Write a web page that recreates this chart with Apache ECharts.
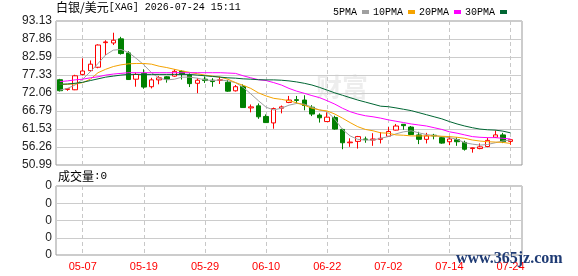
<!DOCTYPE html>
<html>
<head>
<meta charset="utf-8">
<script src="https://cdn.jsdelivr.net/npm/echarts@6/dist/echarts.min.js"></script>
<style>
  html, body { margin: 0; padding: 0; background: #fff; }
  #chart { width: 578px; height: 276px; }
</style>
</head>
<body>
<div id="chart"></div>
<script>
// trading days, one empty slot at the end
var dates = [
  '05-04','05-05','05-06','05-07','05-08','05-11','05-12','05-13','05-14','05-15',
  '05-18','05-19','05-20','05-21','05-22','05-25','05-26','05-27','05-28','05-29',
  '06-01','06-02','06-03','06-04','06-05','06-08','06-09','06-10','06-11','06-12',
  '06-15','06-16','06-17','06-18','06-19','06-22','06-23','06-24','06-25','06-26',
  '06-29','06-30','07-01','07-02','07-03','07-06','07-07','07-08','07-09','07-10',
  '07-13','07-14','07-15','07-16','07-17','07-20','07-21','07-22','07-23','07-24',
  ''
];
var labelDates = ['05-07','05-19','05-29','06-10','06-22','07-02','07-14','07-24'];

var opens = [75.95,73.1,73.0,77.5,78.6,79.6,86.8,86.7,87.9,83.8,
  76.1,77.8,73.9,75.9,76.8,77.0,78.4,77.3,74.9,76.1,
  75.8,75.8,75.2,72.7,74.0,67.7,68.3,65.2,63.3,67.6,
  69.3,70.1,70.0,67.9,65.6,63.7,64.9,61.4,57.5,57.9,
  58.6,58.3,58.5,59.4,61.2,62.9,62.1,59.8,58.5,59.7,
  59.0,57.8,58.4,57.6,55.8,55.8,56.4,59.1,59.8,57.9];
var closes = [72.73,73.3,77.1,78.5,80.5,86.1,87.0,87.5,83.6,76.0,
  77.5,73.8,75.9,76.5,76.1,78.4,77.6,74.8,75.8,75.7,
  75.4,75.9,72.6,73.9,67.8,68.0,65.1,63.4,67.5,68.0,
  70.0,69.9,68.4,65.9,64.8,65.0,61.5,57.5,57.7,59.3,
  58.4,58.6,58.8,60.8,62.4,62.5,59.9,58.5,59.5,59.5,
  57.4,58.6,57.8,55.6,56.0,56.3,58.2,59.8,57.8,58.4];
var lows = [72.5,72.7,72.9,77.2,78.2,79.3,83.2,86.1,83.3,75.9,
  73.9,73.3,73.4,74.6,75.1,76.8,76.0,73.8,72.0,75.0,
  73.9,74.7,72.4,72.5,67.8,66.4,64.5,63.3,61.6,66.1,
  69.1,69.0,67.0,65.3,63.4,63.6,61.3,55.6,56.3,55.8,
  57.5,56.6,57.3,59.2,61.1,61.3,59.8,57.1,57.3,58.5,
  57.2,56.8,56.6,55.2,54.6,55.6,56.2,58.9,57.4,56.9];
var highs = [76.2,73.4,77.4,82.2,81.6,86.3,87.5,89.7,88.5,84.3,
  78.0,79.0,76.5,77.0,77.0,79.0,78.7,77.8,76.4,76.9,
  76.4,76.8,75.9,74.4,74.6,68.7,69.0,65.8,67.8,68.4,
  71.2,71.2,71.4,68.5,66.1,66.4,65.4,61.6,58.8,59.5,
  59.3,60.3,60.6,62.1,63.0,63.0,62.4,60.7,60.4,60.1,
  59.3,59.4,59.1,58.1,56.1,57.3,59.0,61.1,60.4,58.6];

var ma5 = [72.9,73.4,74.4,76.1,78.3,80.7,83.2,84.6,84.8,83.9,
  82.2,80.3,78.0,76.4,75.9,76.1,76.7,76.7,76.4,75.9,
  75.7,75.9,75.6,75.1,73.7,71.8,69.8,67.9,67.1,67.6,
  68.5,69.0,68.8,67.9,67.1,66.6,64.4,61.4,59.5,58.5,
  58.3,58.3,58.8,59.3,60.1,60.7,61.0,60.4,59.9,59.6,
  59.3,59.0,58.5,57.5,57.1,56.8,57.0,57.5,58.0,58.3];
var ma10 = [74.6,74.6,74.7,75.1,76.1,78.0,79.0,79.8,80.3,80.6,
  80.7,80.7,80.5,79.9,79.5,79.0,78.5,78.1,77.7,77.3,
  77.0,76.7,76.1,75.1,74.3,73.4,72.1,71.2,70.5,70.2,
  69.8,69.2,68.5,67.6,67.1,66.8,65.9,64.7,63.4,62.2,
  61.4,61.0,60.4,60.3,59.8,59.7,59.5,59.5,59.5,59.5,
  59.4,59.3,59.1,58.8,58.3,58.0,57.8,57.7,57.6,57.3];
var ma20 = [75.4,75.6,75.9,76.1,76.5,76.8,77.3,77.6,77.8,78.0,
  78.0,78.0,78.0,78.0,78.0,78.0,78.0,78.0,78.0,78.0,
  78.0,78.0,77.9,77.8,77.1,76.5,75.95,75.7,75.1,74.4,
  73.4,72.6,71.97,71.3,70.7,69.8,68.8,67.6,66.6,65.9,
  65.4,65.1,64.7,64.2,63.8,63.4,63.0,62.7,62.4,61.9,
  61.4,60.7,60.3,59.8,59.3,59.1,59.0,59.0,58.8,58.6];
var ma30 = [74.6,74.7,74.9,75.2,75.7,76.2,76.7,77.0,77.3,77.5,
  77.5,77.5,77.5,77.5,77.5,77.5,77.5,77.5,77.3,77.1,
  76.9,76.7,76.5,76.4,76.2,76.1,75.95,75.9,75.9,75.8,
  75.6,75.3,74.9,74.4,73.7,72.9,72.1,71.4,70.7,70.0,
  69.4,68.8,68.2,68.05,67.7,67.3,66.9,66.3,65.7,65.1,
  64.5,63.7,63.0,62.4,61.9,61.5,61.3,61.2,60.9,60.4];
var volumes = dates.map(function () { return 0; });

var priceMin = 50.99, priceMax = 93.13;
var priceLabels = ['50.99','56.26','61.53','66.79','72.06','77.33','82.59','87.86','93.13'];
var volLabels = ['0','0','0','0','0'];

var kdata = opens.map(function (o, i) { return [o, closes[i], lows[i], highs[i]]; });

// helper axis: half-slot categories so split lines can sit on candle centres
var halfSlots = [];
dates.forEach(function (d, i) { halfSlots.push('b' + i, 'm' + i); });
halfSlots.push('end');
var guideSlots = labelDates.map(function (d) { return dates.indexOf(d) * 2 + 1; });
function guideAxis(gi) {
  return { type: 'category', gridIndex: gi, data: halfSlots, boundaryGap: false,
    axisLine: { show: false }, axisTick: { show: false }, axisLabel: { show: false },
    splitLine: { show: true, interval: function (idx) { return guideSlots.indexOf(idx) >= 0; },
      lineStyle: { color: '#c8c8c8', type: [4, 3], width: 1 } } };
}

var chart = echarts.init(document.getElementById('chart'));
chart.setOption({
  animation: false,
  backgroundColor: '#fff',
  graphic: [
    { type: 'text', left: 56, top: 1,
      style: { text: '{a|白银/美元}{b|[XAG] 2026-07-24 15:11}',
        rich: { a: { fontFamily: 'Noto Sans CJK SC', fontSize: 12, fill: '#000' },
                b: { fontFamily: 'Liberation Mono', fontSize: 10, fill: '#000' } } } },
    { type: 'text', left: 58, top: 170,
      style: { text: '{a|成交量}{b|:0}',
        rich: { a: { fontFamily: 'Noto Sans CJK SC', fontSize: 12, fill: '#000' },
                b: { fontFamily: 'Liberation Mono', fontSize: 11, fill: '#000' } } } },
    { type: 'text', left: 316, top: 74, z: 0,
      style: { text: '财富', font: 'bold 26px "Noto Sans CJK SC"', fill: 'rgba(0,0,0,0.07)' } },
    { type: 'text', left: 456, top: 251, z: 100,
      style: { text: 'www.365jz.com', font: 'bold 16px "Liberation Serif"', fill: '#1f3b74' } }
  ],
  legend: {
    top: 2, right: 66, align: 'right', icon: 'rect',
    itemWidth: 7, itemHeight: 4, itemGap: 4,
    textStyle: { fontFamily: 'Liberation Mono', fontSize: 10, color: '#000' },
    data: ['5PMA', '10PMA', '20PMA', '30PMA']
  },
  grid: [
    { left: 56, top: 21, width: 466, height: 144, show: true, borderColor: '#999', borderWidth: 1 },
    { left: 56, top: 186, width: 466, height: 69, show: true, borderColor: '#999', borderWidth: 1 }
  ],
  xAxis: [
    { type: 'category', gridIndex: 0, data: dates, boundaryGap: true,
      axisLine: { show: false }, axisTick: { show: false }, axisLabel: { show: false }, splitLine: { show: false } },
    { type: 'category', gridIndex: 1, data: dates, boundaryGap: true,
      axisLine: { show: false }, axisTick: { show: false }, splitLine: { show: false },
      axisLabel: { color: '#ff0000', fontFamily: 'Liberation Sans', fontSize: 11, margin: 6,
        interval: function (i, v) { return labelDates.indexOf(v) >= 0; } } },
    guideAxis(0),
    guideAxis(1)
  ],
  yAxis: [
    { type: 'value', gridIndex: 0, position: 'left', min: priceMin, max: priceMax, show: false },
    { type: 'value', gridIndex: 0, position: 'left', min: 0, max: 8, interval: 1,
      axisLine: { show: false }, axisTick: { show: false },
      splitLine: { lineStyle: { color: '#cccccc', width: 1 } },
      axisLabel: { margin: 4, color: '#222', fontFamily: 'Liberation Sans', fontSize: 12,
        formatter: function (v) { return priceLabels[v]; } } },
    { type: 'value', gridIndex: 1, position: 'left', min: 0, max: 4, interval: 1,
      axisLine: { show: false }, axisTick: { show: false },
      splitLine: { lineStyle: { color: '#cccccc', width: 1 } },
      axisLabel: { margin: 4, color: '#222', fontFamily: 'Liberation Sans', fontSize: 12,
        formatter: function (v) { return volLabels[v]; } } }
  ],
  series: [
    { type: 'candlestick', name: 'K', xAxisIndex: 0, yAxisIndex: 0, data: kdata, barWidth: 5, z: 3,
      itemStyle: { color: '#ffffff', color0: '#008000', borderColor: '#ff0000', borderColor0: '#008000', borderWidth: 1 } },
    { type: 'line', name: '5PMA', xAxisIndex: 0, yAxisIndex: 0, data: ma5, showSymbol: false, z: 4,
      itemStyle: { color: '#a0a0a0' }, lineStyle: { color: '#a0a0a0', width: 1 } },
    { type: 'line', name: '10PMA', xAxisIndex: 0, yAxisIndex: 0, data: ma10, showSymbol: false, z: 4,
      itemStyle: { color: '#f5a300' }, lineStyle: { color: '#f5a300', width: 1 } },
    { type: 'line', name: '20PMA', xAxisIndex: 0, yAxisIndex: 0, data: ma20, showSymbol: false, z: 4,
      itemStyle: { color: '#ff00ff' }, lineStyle: { color: '#ff00ff', width: 1 } },
    { type: 'line', name: '30PMA', xAxisIndex: 0, yAxisIndex: 0, data: ma30, showSymbol: false, z: 4,
      itemStyle: { color: '#006633' }, lineStyle: { color: '#006633', width: 1 } },
    { type: 'bar', name: 'VOL', xAxisIndex: 1, yAxisIndex: 2, data: volumes, barWidth: 5,
      itemStyle: { color: '#008000' } }
  ]
});
</script>
</body>
</html>
